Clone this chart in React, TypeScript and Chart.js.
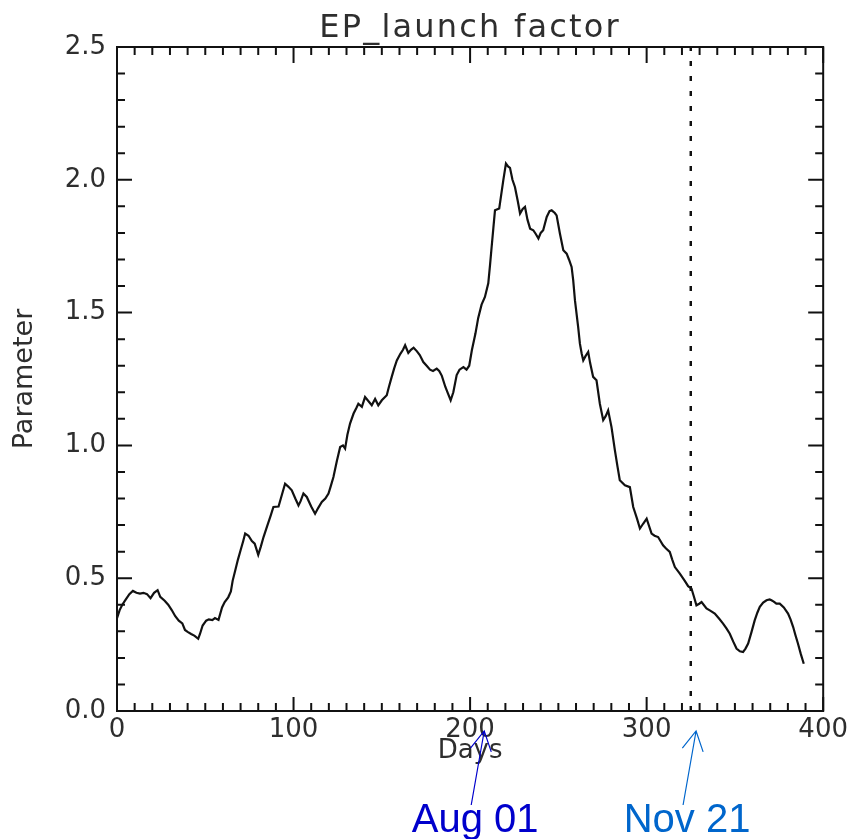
import { useEffect, useRef } from 'react';
import { Chart, registerables } from 'chart.js';

Chart.register(...registerables);

// Daily EP launch factor parameter (day index -> value)
const DAYS = [
  0, 1.5, 3, 5, 7, 9, 11, 13, 15, 17, 19, 21, 23, 24.5, 27, 29, 31, 33, 35, 37,
  38.5, 40, 42, 44, 46, 47, 48.5, 50.5, 52, 54, 55.5, 57.5, 59.5, 61, 63, 64.5, 65.5, 67, 68.5, 70,
  71.5, 72.6, 74.5, 76.4, 78, 80, 81.5, 83, 85, 87, 88.6, 91.5, 93, 95.2, 97, 99, 101, 102.8, 104, 105.6,
  107.5, 110, 112.2, 114, 116, 118, 119.8, 121, 122.6, 124.5, 126.4, 128, 129.2, 130.5, 132, 134, 135.5, 136.7, 138.7, 140.5,
  142, 144.3, 146.2, 148, 150, 152.8, 154, 155.6, 157, 158.5, 160.5, 162, 163.2, 165, 166.5, 168, 169.8, 171.5, 173.5, 175.4,
  177.3, 179, 181.1, 182.5, 184, 186, 187.5, 189, 190.5, 192.4, 194, 196.2, 198, 199.5, 201, 203, 204.6, 206.5, 208.4, 210.3,
  211.3, 212.2, 213.2, 214.1, 216.5, 218.8, 220.3, 221.5, 222.6, 224, 225.4, 227, 228.3, 229.8, 231.1, 232.5, 234, 235.8, 237.3, 238.7,
  240, 241.4, 243.4, 245, 246.2, 248, 249, 250.9, 252.8, 254.7, 256, 257.5, 258.4, 259.4, 261.2, 262.2, 263.2, 264.1, 265.3, 266.9,
  268, 269.7, 271.6, 273.5, 275.4, 276.8, 278.2, 280.1, 282, 283.5, 284.8, 287.7, 290.5, 292.4, 294.5, 296.2, 298, 300, 302.8, 304.5,
  306.5, 309.3, 311, 313.1, 314.5, 316, 318.8, 321.6, 323.5, 325.4, 326.8, 328.2, 329.8, 331.1, 333.9, 336, 338.6, 341, 343.3, 345.3,
  347.1, 349, 350.9, 352.8, 354.6, 356, 357.5, 359.3, 361.2, 362.7, 364.1, 366, 367.9, 369.7, 370.7, 372, 373.5, 375.4, 377.7, 380.1,
  381.5, 383, 384.3, 385.7, 387.3, 389,
];
const PARAMETER = [
  0.35, 0.38, 0.40, 0.42, 0.44, 0.452, 0.445, 0.442, 0.445, 0.44, 0.425, 0.445, 0.455, 0.43, 0.415, 0.40, 0.38, 0.357, 0.34, 0.33,
  0.305, 0.298, 0.29, 0.283, 0.272, 0.29, 0.322, 0.34, 0.345, 0.342, 0.35, 0.343, 0.39, 0.41, 0.428, 0.45, 0.49, 0.53, 0.57, 0.605,
  0.64, 0.668, 0.66, 0.64, 0.63, 0.588, 0.62, 0.655, 0.695, 0.735, 0.768, 0.77, 0.805, 0.856, 0.845, 0.831, 0.80, 0.774, 0.79, 0.819,
  0.806, 0.77, 0.743, 0.765, 0.787, 0.80, 0.819, 0.845, 0.881, 0.94, 0.994, 1.0, 0.988, 1.04, 1.082, 1.12, 1.14, 1.157, 1.145, 1.182,
  1.17, 1.151, 1.175, 1.151, 1.17, 1.189, 1.22, 1.258, 1.29, 1.32, 1.345, 1.36, 1.377, 1.348, 1.36, 1.368, 1.355, 1.34, 1.314, 1.30,
  1.285, 1.28, 1.289, 1.28, 1.262, 1.22, 1.195, 1.17, 1.2, 1.265, 1.285, 1.295, 1.285, 1.30, 1.358, 1.42, 1.48, 1.53, 1.559, 1.61,
  1.68, 1.747, 1.82, 1.885, 1.892, 1.998, 2.061, 2.05, 2.045, 2.0, 1.973, 1.92, 1.873, 1.89, 1.898, 1.85, 1.816, 1.81, 1.795, 1.779,
  1.80, 1.81, 1.86, 1.882, 1.885, 1.875, 1.866, 1.797, 1.735, 1.722, 1.70, 1.672, 1.622, 1.546, 1.446, 1.383, 1.346, 1.32, 1.335, 1.352,
  1.31, 1.258, 1.245, 1.157, 1.095, 1.11, 1.132, 1.069, 0.982, 0.92, 0.869, 0.85, 0.843, 0.768, 0.725, 0.687, 0.705, 0.724, 0.668, 0.66,
  0.655, 0.624, 0.612, 0.599, 0.57, 0.542, 0.517, 0.49, 0.47, 0.461, 0.43, 0.398, 0.404, 0.41, 0.386, 0.378, 0.367, 0.348, 0.329, 0.31,
  0.291, 0.262, 0.235, 0.225, 0.222, 0.235, 0.254, 0.295, 0.341, 0.37, 0.392, 0.408, 0.417, 0.42, 0.417, 0.412, 0.404, 0.404, 0.39, 0.367,
  0.345, 0.316, 0.285, 0.254, 0.215, 0.178,
];

const TITLE = 'EP_launch factor';
const X_LABEL = 'Days';
const Y_LABEL = 'Parameter';
const X_RANGE = [0, 400];
const Y_RANGE = [0, 2.5];
const X_MAJOR_STEP = 100;
const X_MINOR_STEP = 10;
const Y_MAJOR_STEP = 0.5;
const Y_MINOR_STEP = 0.1;

// Vertical reference day (dashed line)
const MARKER_DAY = 325;

// Date call-outs below the axis
const EVENT_LABELS = ['Aug 01', 'Nov 21'];
const EVENT_DAYS = [208, 328];
const EVENT_COLORS = ['#0000cc', '#0066cc'];

const AXIS_FONT = '"DejaVu Sans", sans-serif';
const INK = '#111';
const TEXT = '#2e2e2e';

const idlFrame = {
  id: 'idlFrame',
  afterDatasetsDraw(chart: any) {
    const { ctx, chartArea: a, scales } = chart;
    const xs = scales.x;
    const ys = scales.y;
    ctx.save();
    ctx.strokeStyle = INK;
    ctx.lineWidth = 2;
    ctx.lineCap = 'butt';
    ctx.strokeRect(a.left, a.top, a.right - a.left, a.bottom - a.top);
    ctx.beginPath();
    const nx = Math.round((X_RANGE[1] - X_RANGE[0]) / X_MINOR_STEP);
    const perMajorX = Math.round(X_MAJOR_STEP / X_MINOR_STEP);
    for (let i = 0; i <= nx; i++) {
      const v = X_RANGE[0] + i * X_MINOR_STEP;
      const px = xs.getPixelForValue(v);
      const major = i % perMajorX === 0;
      const lenB = major ? 14 : 8;
      const lenT = major ? 16 : 8;
      ctx.moveTo(px, a.bottom);
      ctx.lineTo(px, a.bottom - lenB);
      ctx.moveTo(px, a.top);
      ctx.lineTo(px, a.top + lenT);
    }
    const ny = Math.round((Y_RANGE[1] - Y_RANGE[0]) / Y_MINOR_STEP);
    const perMajorY = Math.round(Y_MAJOR_STEP / Y_MINOR_STEP);
    for (let i = 0; i <= ny; i++) {
      const v = Y_RANGE[0] + i * Y_MINOR_STEP;
      const py = ys.getPixelForValue(v);
      const major = i % perMajorY === 0;
      const len = major ? 15 : 8;
      ctx.moveTo(a.left, py);
      ctx.lineTo(a.left + len, py);
      ctx.moveTo(a.right, py);
      ctx.lineTo(a.right - len, py);
    }
    ctx.stroke();
    ctx.restore();
  },
  afterDraw(chart: any) {
    const { ctx, chartArea: a, scales } = chart;
    const xs = scales.x;
    ctx.save();
    // Plot title
    ctx.fillStyle = TEXT;
    ctx.font = `32px ${AXIS_FONT}`;
    (ctx as any).letterSpacing = '2.2px';
    ctx.textAlign = 'center';
    ctx.textBaseline = 'alphabetic';
    ctx.fillText(TITLE, (a.left + a.right) / 2, 37);
    (ctx as any).letterSpacing = '0px';

    // Date call-outs with open arrow heads
    EVENT_LABELS.forEach((label, i) => {
      const tipX = xs.getPixelForValue(EVENT_DAYS[i]);
      const tipY = a.bottom + 20;
      const tailX = tipX - 13;
      const tailY = tipY + 74;
      const ang = Math.atan2(tailY - tipY, tailX - tipX);
      const head = 22;
      const spread = 0.5;
      ctx.strokeStyle = EVENT_COLORS[i];
      ctx.lineWidth = 1.2;
      ctx.beginPath();
      ctx.moveTo(tailX, tailY);
      ctx.lineTo(tipX, tipY);
      ctx.moveTo(tipX + head * Math.cos(ang + spread), tipY + head * Math.sin(ang + spread));
      ctx.lineTo(tipX, tipY);
      ctx.lineTo(tipX + head * Math.cos(ang - spread), tipY + head * Math.sin(ang - spread));
      ctx.stroke();
      ctx.fillStyle = EVENT_COLORS[i];
      ctx.font = '40px "Liberation Sans", Arial, sans-serif';
      ctx.textAlign = 'center';
      ctx.textBaseline = 'alphabetic';
      ctx.fillText(label, tailX + 4, 832);
    });
    ctx.restore();
  },
};

export default function App() {
  const ref = useRef<HTMLCanvasElement>(null);

  useEffect(() => {
    if (!ref.current) return;
    const series = DAYS.map((d, i) => ({ x: d, y: PARAMETER[i] }));
    const chart = new Chart(ref.current, {
      type: 'line',
      data: {
        datasets: [
          {
            data: series,
            borderColor: INK,
            borderWidth: 2.2,
            pointRadius: 0,
            tension: 0,
            fill: false,
          },
          {
            data: [
              { x: MARKER_DAY, y: Y_RANGE[0] },
              { x: MARKER_DAY, y: Y_RANGE[1] },
            ],
            borderColor: INK,
            borderWidth: 2.5,
            borderDash: [5, 10],
            pointRadius: 0,
            fill: false,
          },
        ],
      },
      options: {
        animation: false,
        responsive: false,
        devicePixelRatio: 1,
        parsing: false as any,
        layout: { padding: { left: 0, top: 47, right: 28, bottom: 72 } },
        plugins: {
          legend: { display: false },
          tooltip: { enabled: false },
          title: { display: false },
        },
        scales: {
          x: {
            type: 'linear',
            position: 'bottom',
            min: X_RANGE[0],
            max: X_RANGE[1],
            grid: { display: false, drawTicks: false },
            border: { display: false },
            ticks: {
              stepSize: X_MAJOR_STEP,
              autoSkip: false,
              maxRotation: 0,
              padding: 4,
              color: TEXT,
              font: { family: AXIS_FONT, size: 26 },
              callback: (v: any) => String(v),
            },
            title: {
              display: true,
              text: X_LABEL,
              color: TEXT,
              font: { family: AXIS_FONT, size: 26 },
              padding: { top: 0, bottom: 0 },
            },
            afterFit: (s: any) => {
              s.height = 56;
            },
          },
          y: {
            type: 'linear',
            min: Y_RANGE[0],
            max: Y_RANGE[1],
            grid: { display: false, drawTicks: false },
            border: { display: false },
            ticks: {
              stepSize: Y_MAJOR_STEP,
              padding: 11,
              color: TEXT,
              font: { family: AXIS_FONT, size: 26 },
              callback: (v: any) => Number(v).toFixed(1),
            },
            title: {
              display: true,
              text: Y_LABEL,
              color: TEXT,
              font: { family: AXIS_FONT, size: 27 },
              padding: { top: 9, bottom: 0 },
            },
            afterFit: (s: any) => {
              s.width = 117;
            },
          },
        },
      },
      plugins: [idlFrame],
    });
    return () => chart.destroy();
  }, []);

  return (
    <canvas
      ref={ref}
      width={852}
      height={839}
      style={{ position: 'fixed', left: 0, top: 0, background: '#fff' }}
    />
  );
}
